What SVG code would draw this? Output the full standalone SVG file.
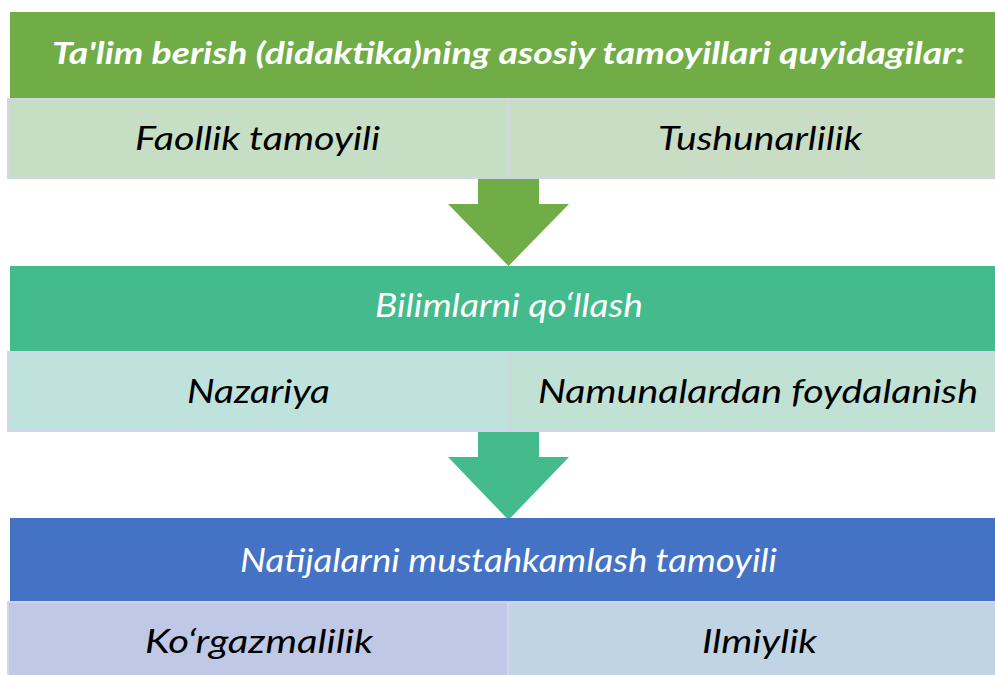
<svg xmlns="http://www.w3.org/2000/svg" width="995" height="675" viewBox="0 0 995 675">
<style>
.t{font-family:Lato,"Open Sans","Liberation Sans",sans-serif;font-style:italic;text-anchor:middle}
.w{fill:#ffffff}
.k{fill:#000000}
.sub{stroke:#d2d5ea;stroke-width:2}
</style>
<rect width="995" height="675" fill="#ffffff"/>
<g id="connectors">
<polygon points="478,178 539,178 539,204 569,204 508.5,266 448,204 478,204" fill="#70ad47"/>
<polygon points="478,431 539,431 539,457 569,457 508.5,520 448,457 478,457" fill="#44bb8c"/>
</g>
<g id="header">
<rect x="10" y="12" width="985" height="87" fill="#70ad47"/>
<text class="t w" x="508.5" y="64" font-size="30" font-weight="bold" textLength="913" lengthAdjust="spacingAndGlyphs">Ta'lim berish (didaktika)ning asosiy tamoyillari quyidagilar:</text>
</g>
<g id="faollik">
<rect class="sub" x="8" y="99" width="500" height="79" fill="#c6dfc4"/>
<text class="t k" x="257.5" y="150" font-size="32" textLength="245" lengthAdjust="spacingAndGlyphs">Faollik tamoyili</text>
</g>
<g id="tushunarlilik">
<rect class="sub" x="508" y="99" width="489" height="79" fill="#c9dcc4"/>
<text class="t k" x="760" y="150" font-size="32" textLength="204" lengthAdjust="spacingAndGlyphs">Tushunarlilik</text>
</g>
<g id="bilimlarni">
<rect x="10" y="266" width="985" height="86" fill="#44bb8c"/>
<text class="t w" x="509" y="317" font-size="32" textLength="268" lengthAdjust="spacingAndGlyphs">Bilimlarni qo‘llash</text>
</g>
<g id="nazariya">
<rect class="sub" x="8" y="352" width="500" height="79" fill="#bfe2dc"/>
<text class="t k" x="258.5" y="403" font-size="32" textLength="143" lengthAdjust="spacingAndGlyphs">Nazariya</text>
</g>
<g id="namunalardan">
<rect class="sub" x="508" y="352" width="489" height="79" fill="#c2e1d5"/>
<text class="t k" x="758" y="403" font-size="32" textLength="440" lengthAdjust="spacingAndGlyphs">Namunalardan foydalanish</text>
</g>
<g id="natijalarni">
<rect x="10" y="518" width="985" height="84" fill="#4472c4"/>
<text class="t w" x="508.5" y="572" font-size="32" textLength="537" lengthAdjust="spacingAndGlyphs">Natijalarni mustahkamlash tamoyili</text>
</g>
<g id="korgazmalilik">
<rect class="sub" x="8" y="602" width="500" height="80" fill="#bfc8e5"/>
<text class="t k" x="259" y="653" font-size="32" textLength="228" lengthAdjust="spacingAndGlyphs">Ko‘rgazmalilik</text>
</g>
<g id="ilmiylik">
<rect class="sub" x="508" y="602" width="489" height="80" fill="#c1d4e4"/>
<text class="t k" x="759.5" y="653" font-size="32" textLength="115" lengthAdjust="spacingAndGlyphs">Ilmiylik</text>
</g>
</svg>
